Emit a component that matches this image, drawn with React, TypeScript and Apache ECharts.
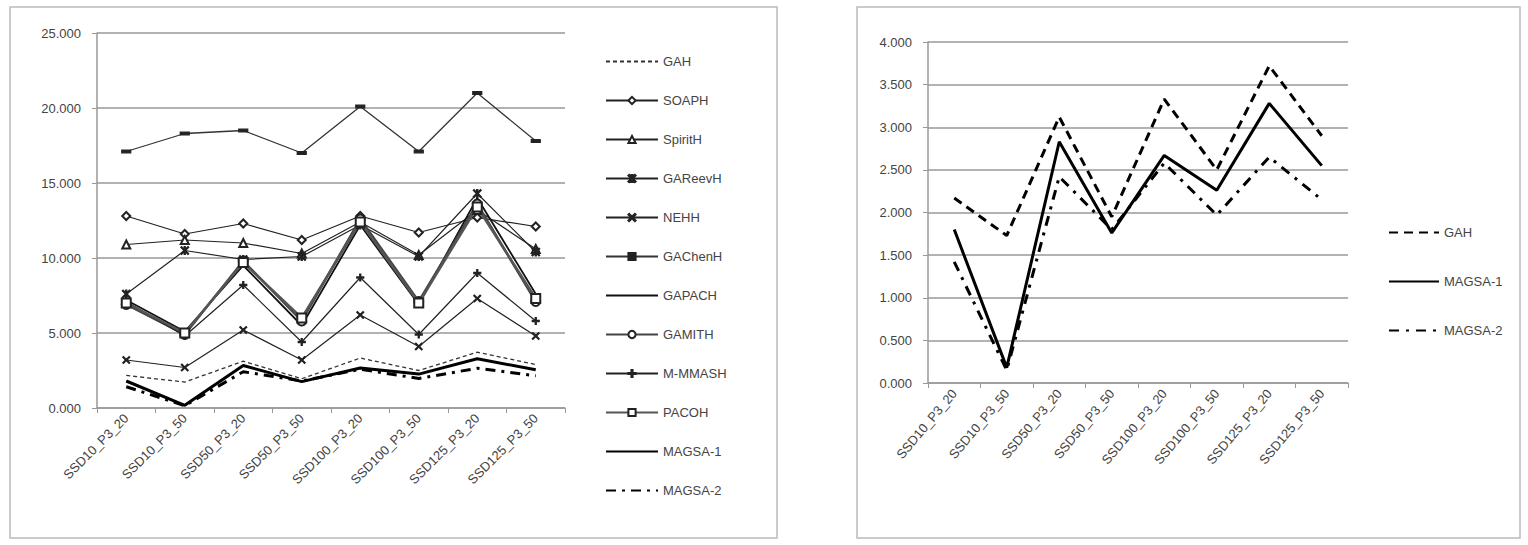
import React, { useEffect, useRef } from "react";
import * as echarts from "echarts";

const categories = [
  "SSD10_P3_20",
  "SSD10_P3_50",
  "SSD50_P3_20",
  "SSD50_P3_50",
  "SSD100_P3_20",
  "SSD100_P3_50",
  "SSD125_P3_20",
  "SSD125_P3_50",
];

const gah = [2.17, 1.73, 3.12, 1.95, 3.33, 2.5, 3.72, 2.9];
const soaph = [12.8, 11.6, 12.3, 11.2, 12.8, 11.7, 12.7, 12.1];
const spiritH = [10.9, 11.2, 11.0, 10.3, 12.4, 10.2, 13.2, 10.6];
const gaReevH = [7.6, 10.5, 9.9, 10.1, 12.2, 10.1, 14.3, 10.4];
const nehh = [3.2, 2.7, 5.2, 3.2, 6.2, 4.1, 7.3, 4.8];
const gaChenH = [17.1, 18.3, 18.5, 17.0, 20.1, 17.1, 21.0, 17.8];
const gaPacH = [7.2, 5.1, 9.5, 5.5, 12.2, 6.9, 14.0, 7.6];
const gaMitH = [6.9, 4.9, 9.8, 5.8, 12.6, 7.1, 13.6, 7.1];
const mMmasH = [7.1, 4.8, 8.2, 4.4, 8.7, 4.9, 9.0, 5.8];
const pacoh = [7.0, 5.0, 9.7, 6.0, 12.4, 7.0, 13.4, 7.3];
const magsa1 = [1.8, 0.18, 2.83, 1.76, 2.67, 2.26, 3.28, 2.55];
const magsa2 = [1.42, 0.15, 2.42, 1.8, 2.58, 1.97, 2.65, 2.15];

const leftYTicks = { min: 0, max: 25, interval: 5 };
const rightYTicks = { min: 0, max: 4, interval: 0.5 };

const X_SYM = "path://M0,1L1,0L5,4L9,0L10,1L6,5L10,9L9,10L5,6L1,10L0,9L4,5Z";
const AST_SYM =
  "path://M0,1L1,0L4.3,3.3V0H5.7V3.3L9,0L10,1L6,5L10,9L9,10L5.7,6.7V10H4.3V6.7L1,10L0,9L4,5Z";
const PLUS_SYM = "path://M4.2,0H5.8V4.2H10V5.8H5.8V10H4.2V5.8H0V4.2H4.2Z";
const DASH_SYM = "path://M0,0H10V3H0Z";

const FONT = "Liberation Sans";
const INK = "#222";
const TXT = "#444";

export default function App() {
  const ref = useRef<HTMLDivElement>(null);
  useEffect(() => {
    if (!ref.current) return;
    const chart = echarts.init(ref.current, undefined, { renderer: "svg" });

    const base = (name: string, data: number[], extra: any) => ({
      name,
      type: "line",
      xAxisIndex: 0,
      yAxisIndex: 0,
      data,
      symbolSize: 7,
      itemStyle: { color: INK, borderColor: INK, borderWidth: 1.2 },
      lineStyle: { color: INK, width: 1.2 },
      ...extra,
    });

    const leftSeries = [
      base("GAH", gah, {
        symbol: "none",
        lineStyle: { color: "#333", width: 1.3, type: [4, 3] },
      }),
      base("SOAPH", soaph, { symbol: "emptyDiamond", symbolSize: 8 }),
      base("SpiritH", spiritH, { symbol: "emptyTriangle", symbolSize: 8 }),
      base("GAReevH", gaReevH, { symbol: AST_SYM, symbolSize: 8 }),
      base("NEHH", nehh, { symbol: X_SYM, symbolSize: 7 }),
      base("GAChenH", gaChenH, {
        symbol: DASH_SYM,
        symbolSize: 9,
        symbolKeepAspect: true,
        lineStyle: { color: "#333", width: 1.3 },
      }),
      base("GAPACH", gaPacH, {
        symbol: "none",
        lineStyle: { color: "#111", width: 1.8 },
      }),
      base("GAMITH", gaMitH, {
        symbol: "emptyCircle",
        symbolSize: 9,
        itemStyle: { color: INK, borderColor: INK, borderWidth: 2 },
        lineStyle: { color: "#444", width: 2.5 },
      }),
      base("M-MMASH", mMmasH, { symbol: PLUS_SYM, symbolSize: 7 }),
      base("PACOH", pacoh, {
        symbol: "emptyRect",
        symbolSize: 9,
        itemStyle: { color: INK, borderColor: INK, borderWidth: 2 },
        lineStyle: { color: "#555", width: 2.5 },
      }),
      base("MAGSA-1", magsa1, {
        symbol: "none",
        lineStyle: { color: "#000", width: 3 },
      }),
      base("MAGSA-2", magsa2, {
        symbol: "none",
        lineStyle: { color: "#000", width: 3, type: [10, 6, 3, 6] },
      }),
    ];

    const rightSeries = [
      {
        name: "GAH#2",
        type: "line",
        xAxisIndex: 1,
        yAxisIndex: 1,
        data: gah,
        symbol: "none",
        lineStyle: { color: "#000", width: 3, type: [9, 6] },
        itemStyle: { color: "#000" },
      },
      {
        name: "MAGSA-1#2",
        type: "line",
        xAxisIndex: 1,
        yAxisIndex: 1,
        data: magsa1,
        symbol: "none",
        lineStyle: { color: "#000", width: 3 },
        itemStyle: { color: "#000" },
      },
      {
        name: "MAGSA-2#2",
        type: "line",
        xAxisIndex: 1,
        yAxisIndex: 1,
        data: magsa2,
        symbol: "none",
        lineStyle: { color: "#000", width: 3, type: [10, 7, 3, 7] },
        itemStyle: { color: "#000" },
      },
    ];

    const legendItem = (s: any) =>
      s.symbol === "none"
        ? { name: s.name, itemStyle: { opacity: 0 } }
        : { name: s.name };

    const xAxisCommon = (gridIndex: number, rotate: number) => ({
      type: "category",
      gridIndex,
      data: categories,
      boundaryGap: true,
      axisLine: { lineStyle: { color: "#999", width: 1.5 } },
      axisTick: { show: true, length: 5, lineStyle: { color: "#999" } },
      axisLabel: {
        rotate,
        interval: 0,
        color: TXT,
        fontFamily: FONT,
        fontSize: 13,
        margin: 8,
      },
      splitLine: { show: false },
    });

    const yAxisCommon = (gridIndex: number, t: any) => ({
      type: "value",
      gridIndex,
      min: t.min,
      max: t.max,
      interval: t.interval,
      axisLine: { show: true, lineStyle: { color: "#999", width: 1.5 } },
      axisTick: { show: true, length: 5, lineStyle: { color: "#999" } },
      axisLabel: {
        color: TXT,
        fontFamily: FONT,
        fontSize: 13,
        margin: 16,
        formatter: (v: number) => v.toFixed(3),
      },
      splitLine: { show: true, lineStyle: { color: "#999", width: 1.5 } },
    });

    chart.setOption({
      animation: false,
      backgroundColor: "#fff",
      textStyle: { fontFamily: FONT },
      graphic: [
        {
          type: "rect",
          shape: { x: 10, y: 7, width: 767, height: 531 },
          style: { fill: "none", stroke: "#bbb", lineWidth: 1.5 },
          silent: true,
        },
        {
          type: "rect",
          shape: { x: 857, y: 7, width: 663, height: 531 },
          style: { fill: "none", stroke: "#bbb", lineWidth: 1.5 },
          silent: true,
        },
      ],
      grid: [
        { left: 97, top: 33, width: 468, height: 375, containLabel: false },
        { left: 928, top: 42, width: 420, height: 341, containLabel: false },
      ],
      xAxis: [xAxisCommon(0, 45), xAxisCommon(1, 50)],
      yAxis: [yAxisCommon(0, leftYTicks), yAxisCommon(1, rightYTicks)],
      legend: [
        {
          orient: "vertical",
          left: 600,
          top: 50,
          itemWidth: 52,
          itemHeight: 9,
          itemGap: 26,
          data: leftSeries.map(legendItem),
          textStyle: { color: TXT, fontSize: 13, fontFamily: FONT },
          selectedMode: false,
        },
        {
          orient: "vertical",
          left: 1383,
          top: 221,
          itemWidth: 50,
          itemHeight: 9,
          itemGap: 36,
          data: rightSeries.map(legendItem),
          formatter: (n: string) => n.replace("#2", ""),
          textStyle: { color: TXT, fontSize: 13, fontFamily: FONT },
          selectedMode: false,
        },
      ],
      series: [...leftSeries, ...rightSeries],
    });

    return () => chart.dispose();
  }, []);

  return (
    <div
      ref={ref}
      style={{ position: "fixed", left: 0, top: 0, width: 1528, height: 545 }}
    />
  );
}
